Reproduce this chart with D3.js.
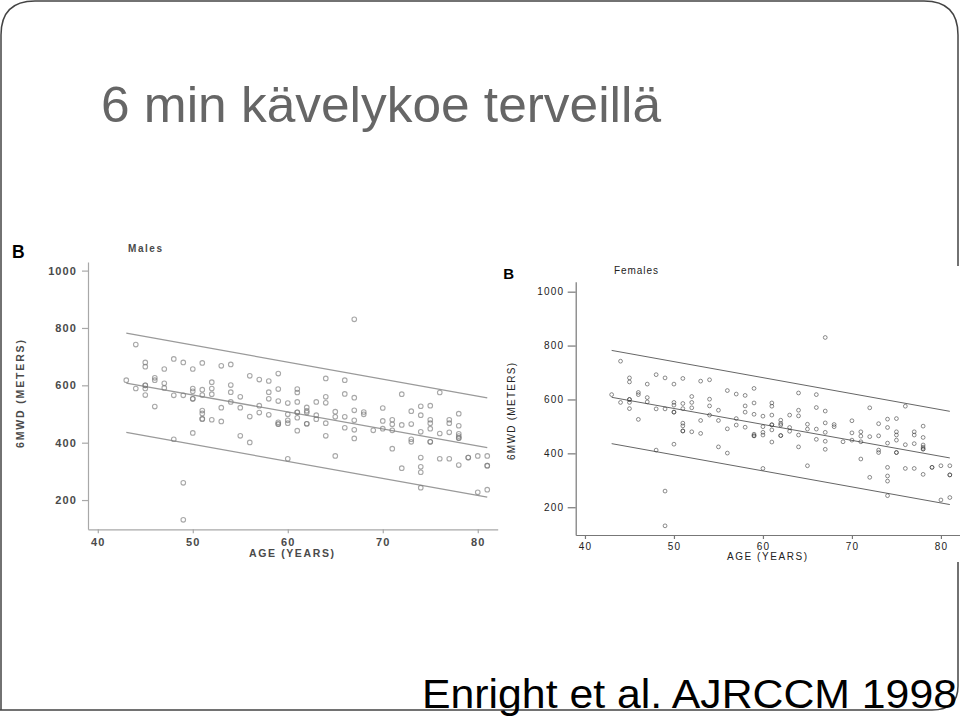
<!DOCTYPE html>
<html>
<head>
<meta charset="utf-8">
<script src="https://cdn.jsdelivr.net/npm/d3@7"></script>
<style>
  body { margin: 0; background: #fff; }
  svg { display: block; }
</style>
</head>
<body>
<script>

let width = 960;
let height = 719;

const ageGroups = [43, 44, 45, 46, 47, 48, 49, 50, 51, 52, 53, 54, 55, 56, 57, 58, 59, 60, 61, 62,
    63, 64, 65, 66, 67, 68, 69, 70, 71, 72, 73, 74, 75, 76, 77, 78, 79, 80, 81];
const distanceGroups = [
    [618],
    [742, 589],
    [680, 665, 600, 600, 589, 566],
    [626, 618, 526],
    [657, 607, 591],
    [692, 565, 412],
    [680, 565, 260, 131],
    [657, 589, 579, 553, 553, 434],
    [678, 585, 566, 512, 502, 483, 483],
    [611, 589, 569, 480],
    [668, 522, 474],
    [673, 601, 576, 542],
    [560, 522, 424],
    [633, 491, 401],
    [620, 529, 505],
    [615, 576, 553, 497],
    [641, 587, 545, 471, 465, 465],
    [538, 499, 478, 468, 344],
    [587, 575, 542, 506, 506, 487, 442],
    [523, 511, 505, 466, 466],
    [542, 496, 482],
    [624, 560, 539, 468, 424],
    [508, 490, 354],
    [618, 570, 490, 452],
    [830, 557, 513, 478, 445, 415],
    [507, 499],
    [443],
    [521, 476, 449],
    [480, 464, 443, 379],
    [569, 462, 311],
    [510, 465, 412, 403],
    [527, 496, 438, 348, 316, 297, 243],
    [529, 480, 468, 449, 403, 403],
    [575, 432, 344],
    [480, 468, 436, 344],
    [501, 459, 431, 423, 416, 416, 322],
    [348, 348],
    [354, 227],
    [354, 320, 320, 236]
];

// regression line and limits, value at first and last age
const lineAges = [43, 81];
const upperLine = [782, 556];
const meanLine = [608, 383];
const lowerLine = [436, 210];

const ageTicks = [40, 50, 60, 70, 80];
const distanceTicks = [200, 400, 600, 800, 1000];

const titleText = "6 min kävelykoe terveillä";
const sourceText = "Enright et al. AJRCCM 1998";

let points = [];
ageGroups.forEach((age, i) => {
    distanceGroups[i].forEach(v => points.push({ age: age, dist: v }));
});

let svg = d3.select("body")
    .append("svg")
    .attr("width", width)
    .attr("height", height);

// slide frame
let r = 34;
let L = 1, T = 1, R = 958, B = 710;
svg.append("path")
    .attr("d", `M${L},${T + r} Q${L},${T} ${L + r},${T} L${R - r},${T} Q${R},${T} ${R},${T + r}
        L${R},${B - 24} Q${R},${B} ${R - 26},${B} L0,${B}
        M${L},${T + r} L${L},${B}`)
    .attr("fill", "none")
    .attr("stroke", "#444")
    .attr("stroke-width", 1.5);

svg.append("text")
    .attr("x", 101)
    .attr("y", 122)
    .attr("font-family", "Liberation Sans, Arial, sans-serif")
    .attr("font-size", 50)
    .attr("fill", "#666")
    .attr("textLength", 560)
    .attr("lengthAdjust", "spacingAndGlyphs")
    .text(titleText);

// the female picture is pasted over the slide frame
svg.append("rect")
    .attr("x", 495).attr("y", 266)
    .attr("width", 465).attr("height", 296)
    .attr("fill", "#fff");

const panels = [
    {
        name: "Males",
        xDomain: [38.97, 82.1], xRange: [88, 497.7],
        yDomain: [98, 1030], yRange: [529.3, 262],
        axisColor: "#a8a8a8", textColor: "#4a4a4a", weight: "bold",
        dotColor: "#7a7a7a", dotOpacity: 0.65, dotR: 2.3, dotW: 1.1,
        lineColor: "#9a9a9a", lineW: 1.3,
        yTick: 6, yPad: 5, xTick: 4, xPad: 4.5, tickFont: 11, spacing: 1.1,
        letter: { x: 12, y: 258, size: 17.5 },
        head: { x: 128, y: 251.7, len: 34, size: 10 },
        xLabel: { x: 249, y: 557.3, len: 85, size: 10.5 },
        yLabel: { x: 23.5, y: 394, len: 108, size: 10.5 }
    },
    {
        name: "Females",
        xDomain: [38.96, 82.2], xRange: [575.7, 960.5],
        yDomain: [97, 1037], yRange: [535, 281.7],
        axisColor: "#777", textColor: "#222", weight: "normal",
        dotColor: "#333", dotOpacity: 0.7, dotR: 1.9, dotW: 0.8,
        lineColor: "#666", lineW: 1,
        yTick: 8, yPad: 3.5, xTick: 4, xPad: 4.3, tickFont: 10, spacing: 1.2,
        letter: { x: 503.3, y: 279.3, size: 15 },
        head: { x: 614, y: 274, len: 44, size: 10 },
        xLabel: { x: 727, y: 560, len: 80, size: 10 },
        yLabel: { x: 515, y: 411.5, len: 97, size: 10 }
    }
];

const drawPanel = function(p) {
    let g = svg.append("g").attr("class", "panel");
    let font = "Liberation Sans, Arial, sans-serif";

    let scaleX = d3.scaleLinear().domain(p.xDomain).range(p.xRange);
    let scaleY = d3.scaleLinear().domain(p.yDomain).range(p.yRange);

    let xAxis = g.append("g")
        .attr("transform", "translate(0," + p.yRange[0] + ")")
        .call(d3.axisBottom(scaleX).tickValues(ageTicks).tickFormat(d3.format("d"))
            .tickSize(p.xTick).tickSizeOuter(0).tickPadding(p.xPad));
    let yAxis = g.append("g")
        .attr("transform", "translate(" + p.xRange[0] + ",0)")
        .call(d3.axisLeft(scaleY).tickValues(distanceTicks).tickFormat(d3.format("d"))
            .tickSize(p.yTick).tickSizeOuter(0).tickPadding(p.yPad));

    [xAxis, yAxis].forEach(a => {
        a.attr("font-family", font).attr("font-size", p.tickFont);
        a.selectAll("path, line").attr("stroke", p.axisColor).attr("stroke-width", 1.2);
        a.selectAll("text")
            .attr("fill", p.textColor)
            .attr("font-weight", p.weight)
            .style("letter-spacing", p.spacing + "px");
    });

    // fitted line with upper and lower limits
    let line = d3.line().x(d => scaleX(d[0])).y(d => scaleY(d[1]));
    g.selectAll("path.fit")
        .data([upperLine, meanLine, lowerLine])
        .join("path")
        .attr("class", "fit")
        .attr("d", d => line(lineAges.map((a, i) => [a, d[i]])))
        .attr("fill", "none")
        .attr("stroke", p.lineColor)
        .attr("stroke-width", p.lineW);

    g.selectAll("circle")
        .data(points)
        .join("circle")
        .attr("cx", d => scaleX(d.age))
        .attr("cy", d => scaleY(d.dist))
        .attr("r", p.dotR)
        .attr("fill", "none")
        .attr("stroke", p.dotColor)
        .attr("stroke-opacity", p.dotOpacity)
        .attr("stroke-width", p.dotW);

    g.append("text")
        .attr("x", p.letter.x).attr("y", p.letter.y)
        .attr("font-family", font).attr("font-weight", "bold")
        .attr("font-size", p.letter.size)
        .text("B");

    g.append("text")
        .attr("x", p.head.x).attr("y", p.head.y)
        .attr("font-family", font).attr("font-weight", p.weight)
        .attr("font-size", p.head.size).attr("fill", p.textColor)
        .attr("textLength", p.head.len).attr("lengthAdjust", "spacing")
        .text(p.name);

    g.append("text")
        .attr("x", p.xLabel.x).attr("y", p.xLabel.y)
        .attr("font-family", font).attr("font-weight", p.weight)
        .attr("font-size", p.xLabel.size).attr("fill", p.textColor)
        .attr("textLength", p.xLabel.len).attr("lengthAdjust", "spacing")
        .text("AGE (YEARS)");

    g.append("text")
        .attr("transform", "translate(" + p.yLabel.x + "," + p.yLabel.y + ") rotate(-90)")
        .attr("text-anchor", "middle")
        .attr("font-family", font).attr("font-weight", p.weight)
        .attr("font-size", p.yLabel.size).attr("fill", p.textColor)
        .attr("textLength", p.yLabel.len).attr("lengthAdjust", "spacing")
        .text("6MWD (METERS)");
};

panels.forEach(drawPanel);

svg.append("text")
    .attr("x", 422)
    .attr("y", 708)
    .attr("font-family", "Liberation Sans, Arial, sans-serif")
    .attr("font-size", 40)
    .attr("fill", "#000")
    .attr("textLength", 535)
    .attr("lengthAdjust", "spacingAndGlyphs")
    .text(sourceText);

</script>
</body>
</html>
